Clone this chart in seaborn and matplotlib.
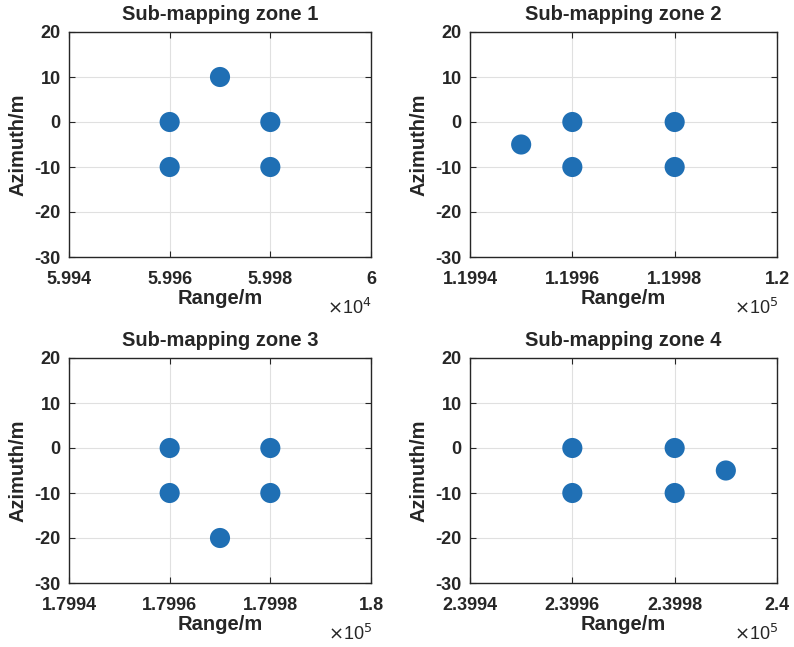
import matplotlib
matplotlib.use("Agg")
import matplotlib.pyplot as plt
import seaborn as sns
import pandas as pd

sns.set_theme(style="white")
plt.rcParams['font.family'] = ['Liberation Sans', 'DejaVu Sans']

zones = ["Sub-mapping zone 1", "Sub-mapping zone 2", "Sub-mapping zone 3", "Sub-mapping zone 4"]
range_vals = [
    [59960, 59970, 59980, 59960, 59980],
    [119950, 119960, 119980, 119960, 119980],
    [179960, 179980, 179960, 179980, 179970],
    [239960, 239980, 239960, 239980, 239990],
]
azimuth_vals = [
    [0, 10, 0, -10, -10],
    [-5, 0, 0, -10, -10],
    [0, 0, -10, -10, -20],
    [0, 0, -10, -10, -5],
]
x_ticks = [
    [59940, 59960, 59980, 60000],
    [119940, 119960, 119980, 120000],
    [179940, 179960, 179980, 180000],
    [239940, 239960, 239980, 240000],
]
x_ticklabels = [
    ["5.994", "5.996", "5.998", "6"],
    ["1.1994", "1.1996", "1.1998", "1.2"],
    ["1.7994", "1.7996", "1.7998", "1.8"],
    ["2.3994", "2.3996", "2.3998", "2.4"],
]
exponents = [4, 5, 5, 5]
y_ticks = [-30, -20, -10, 0, 10, 20]

fig = plt.figure(figsize=(7.94, 6.47), dpi=100)
W, H = 794, 647
boxes = [(69, 32, 371, 257), (470, 32, 777, 257), (69, 358, 371, 583), (470, 358, 777, 583)]
txt = '#262626'
for i in range(4):
    l, t, r, b = boxes[i]
    ax = fig.add_axes([l / W, 1 - b / H, (r - l) / W, (b - t) / H])
    df = pd.DataFrame({"Range": range_vals[i], "Azimuth": azimuth_vals[i]})
    sns.scatterplot(data=df, x="Range", y="Azimuth", ax=ax, s=210, color='#1f6fb4',
                    edgecolor='none', linewidth=0, zorder=3)
    ax.set_xlim(x_ticks[i][0], x_ticks[i][-1])
    ax.set_ylim(-30, 20)
    ax.set_xticks(x_ticks[i])
    ax.set_xticklabels(x_ticklabels[i])
    ax.set_yticks(y_ticks)
    ax.set_yticklabels([str(v) for v in y_ticks])
    ax.grid(True, color='#e0e0e0', linewidth=0.8)
    ax.set_axisbelow(True)
    for sp in ax.spines.values():
        sp.set_visible(True)
        sp.set_color(txt)
        sp.set_linewidth(1.0)
    ax.tick_params(direction='in', length=4, width=0.8, color=txt, top=True, right=True,
                   bottom=True, left=True, labelsize=13, labelcolor=txt)
    ax.tick_params(axis='x', pad=10)
    ax.tick_params(axis='y', pad=6)
    for lab in ax.get_xticklabels() + ax.get_yticklabels():
        lab.set_fontweight('bold')
    ax.set_title(zones[i], fontsize=14.5, fontweight='bold', color=txt, pad=9)
    ax.set_xlabel("Range/m", fontsize=14.5, fontweight='bold', color=txt, labelpad=1)
    ax.set_ylabel("Azimuth/m", fontsize=14.5, fontweight='bold', color=txt, labelpad=5)
    ax.annotate(r"$\times$10$^{%d}$" % exponents[i], xy=(1.0, 0), xycoords='axes fraction',
                xytext=(1, -41), textcoords='offset pixels', ha='right', va='top',
                fontsize=13, color=txt)

fig.savefig("out.png", dpi=100)
